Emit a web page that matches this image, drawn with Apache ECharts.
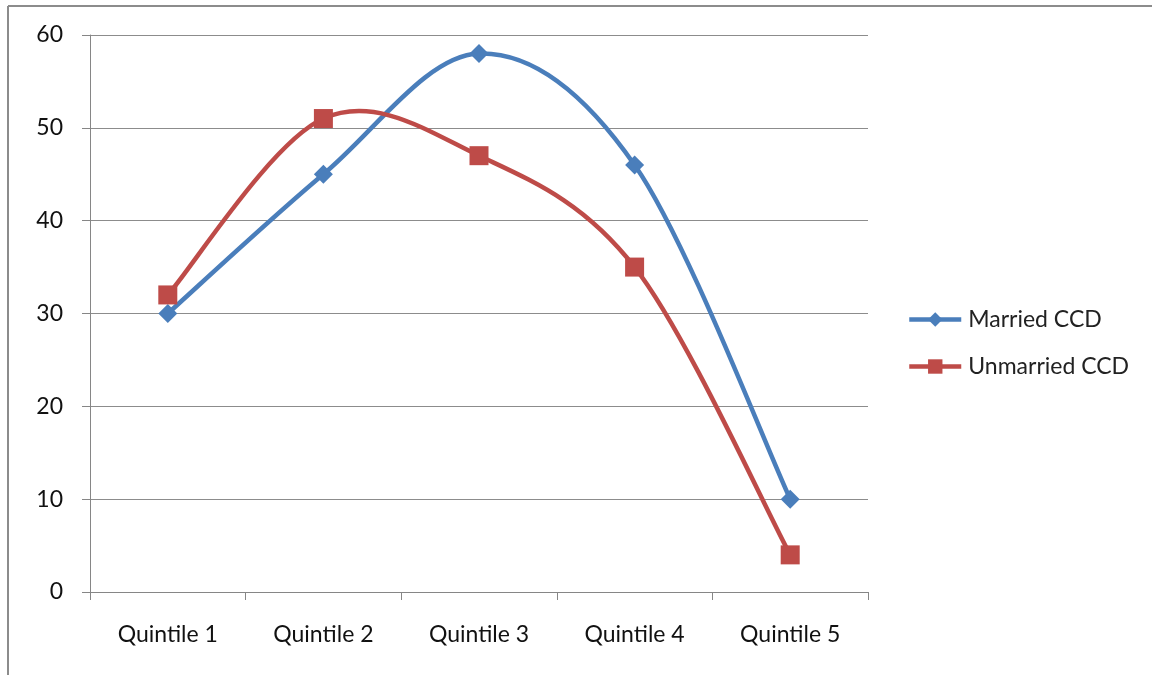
<!DOCTYPE html>
<html>
<head>
<meta charset="utf-8">
<script src="https://cdn.jsdelivr.net/npm/echarts@6/dist/echarts.min.js"></script>
<style>
  html, body { margin: 0; padding: 0; background: #fff; }
  #chart { width: 1152px; height: 675px; }
</style>
</head>
<body>
<div id="chart"></div>
<script>
// Categories and series values
const categories = ['Quintile 1', 'Quintile 2', 'Quintile 3', 'Quintile 4', 'Quintile 5'];
const marriedCCD = [30, 45, 58, 46, 10];
const unmarriedCCD = [32, 51, 47, 35, 4];
const yTicks = { min: 0, max: 60, interval: 10 };

const FONT = 'Lato, "Open Sans", sans-serif';
const BLUE = '#4a7ebb';
const RED = '#be4b48';
const LINE_W = 4.5;

// Cardinal (Catmull-Rom) bezier segment between point i and i+1,
// computed in pixel space from the axis coordinates.
function curveSegment(values, color) {
  return function (params, api) {
    const i = api.value(0);
    const n = values.length;
    if (i >= n - 1) return null;
    const p = (k) => {
      const j = Math.max(0, Math.min(n - 1, k));
      return api.coord([j, values[j]]);
    };
    const p0 = p(i - 1), p1 = p(i), p2 = p(i + 1), p3 = p(i + 2);
    const c1 = [p1[0] + (p2[0] - p0[0]) / 6, p1[1] + (p2[1] - p0[1]) / 6];
    const c2 = [p2[0] - (p3[0] - p1[0]) / 6, p2[1] - (p3[1] - p1[1]) / 6];
    return {
      type: 'bezierCurve',
      shape: { x1: p1[0], y1: p1[1], x2: p2[0], y2: p2[1], cpx1: c1[0], cpy1: c1[1], cpx2: c2[0], cpy2: c2[1] },
      style: { stroke: color, lineWidth: LINE_W, fill: null, lineCap: 'round' }
    };
  };
}

const indexData = (values) => values.map((v, i) => [i, v]);

const chart = echarts.init(document.getElementById('chart'), null, { renderer: 'canvas' });

chart.setOption({
  backgroundColor: '#fff',
  animation: false,
  textStyle: { fontFamily: FONT },
  graphic: [
    // frame edges on the top and left
    { type: 'line', shape: { x1: 8, y1: 6, x2: 1152, y2: 6 }, style: { stroke: '#8c8c8c', lineWidth: 2 } },
    { type: 'line', shape: { x1: 8, y1: 6, x2: 8, y2: 675 }, style: { stroke: '#8c8c8c', lineWidth: 2 } }
  ],
  grid: { left: 90, right: 284, top: 35, bottom: 83, containLabel: false },
  legend: {
    orient: 'vertical',
    left: 902,
    top: 303,
    itemWidth: 52,
    itemHeight: 18,
    itemGap: 24,
    lineStyle: { width: LINE_W, opacity: 1 },
    textStyle: { fontFamily: FONT, fontSize: 23, color: '#222', padding: [0, 0, 0, 2] },
    data: ['Married CCD', 'Unmarried CCD']
  },
  xAxis: {
    type: 'category',
    data: categories,
    boundaryGap: true,
    axisLine: { lineStyle: { color: '#868686', width: 1 } },
    axisTick: { show: true, length: 8, lineStyle: { color: '#868686' } },
    axisLabel: { fontFamily: FONT, fontSize: 23, color: '#111', margin: 31 },
    splitLine: { show: false }
  },
  yAxis: {
    type: 'value',
    min: yTicks.min,
    max: yTicks.max,
    interval: yTicks.interval,
    axisLine: { show: true, lineStyle: { color: '#868686', width: 1 } },
    axisTick: { show: true, length: 8, lineStyle: { color: '#868686' } },
    axisLabel: { fontFamily: FONT, fontSize: 23, color: '#111', margin: 27 },
    splitLine: { show: true, lineStyle: { color: '#8c8c8c', width: 1 } }
  },
  series: [
    {
      name: 'Married CCD curve',
      type: 'custom',
      data: indexData(marriedCCD),
      renderItem: curveSegment(marriedCCD, BLUE),
      encode: { x: 0, y: 1 },
      z: 1,
      silent: true
    },
    {
      name: 'Unmarried CCD curve',
      type: 'custom',
      data: indexData(unmarriedCCD),
      renderItem: curveSegment(unmarriedCCD, RED),
      encode: { x: 0, y: 1 },
      z: 1,
      silent: true
    },
    {
      name: 'Married CCD',
      type: 'line',
      data: marriedCCD,
      symbol: 'diamond',
      symbolSize: 19,
      itemStyle: { color: BLUE },
      lineStyle: { color: BLUE, width: LINE_W, opacity: 0 },
      z: 3
    },
    {
      name: 'Unmarried CCD',
      type: 'line',
      data: unmarriedCCD,
      symbol: 'rect',
      symbolSize: 19,
      itemStyle: { color: RED },
      lineStyle: { color: RED, width: LINE_W, opacity: 0 },
      z: 3
    }
  ]
});
</script>
</body>
</html>
